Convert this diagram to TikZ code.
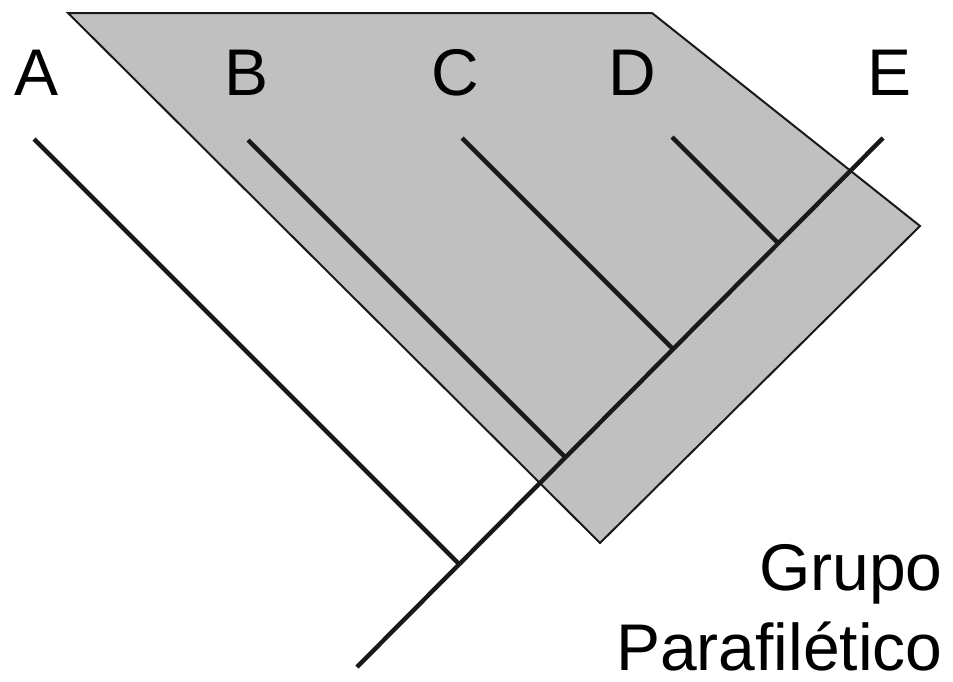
\documentclass[tikz,border=0pt]{standalone}
\usepackage{fontspec}
\setmainfont{Liberation Sans}
\usepackage{xcolor}
\usepackage{tikz}
\usetikzlibrary{positioning}

\definecolor{groupgray}{RGB}{192,192,192}

\begin{document}
\begin{tikzpicture}[
        x=0.5pt, y=-0.5pt,
        taxon/.style={font=\fontsize{33}{40}\selectfont, inner sep=0pt},
        caption/.style={font=\fontsize{33}{40}\selectfont, align=right, anchor=south east, inner sep=0pt},
        branch/.style={line width=2.2pt, draw=black!90},
        group/.style={fill=groupgray, draw=black!90, line width=1pt}
        ]
        \useasboundingbox (0,0) rectangle (953,681);

        % Paraphyletic group (shaded area)
        \coordinate (g1) at (68,13);
        \coordinate (g2) at (652,13);
        \coordinate (g3) at (920,226);
        \coordinate (g4) at (600,543);
        \draw [group] (g1) -- (g2) -- (g3) -- (g4) -- cycle;

        % Tips and junctions
        \coordinate (root) at (357,667);
        \coordinate (tipA) at (34,139);
        \coordinate (tipB) at (248,140);
        \coordinate (tipC) at (462,138);
        \coordinate (tipD) at (672,137);
        \coordinate (tipE) at (883,138);
        \coordinate (jA) at (459,564);
        \coordinate (jB) at (565,457);
        \coordinate (jC) at (673,349);
        \coordinate (jD) at (778,243);

        % Branches
        \draw [branch] (root) -- (tipE);
        \draw [branch] (tipA) -- (jA);
        \draw [branch] (tipB) -- (jB);
        \draw [branch] (tipC) -- (jC);
        \draw [branch] (tipD) -- (jD);

        % Taxon labels
        \node (A) [taxon] at (37,73) {A};
        \node (B) [taxon] at (247,73) {B};
        \node (C) [taxon] at (455,73) {C};
        \node (D) [taxon] at (632,73) {D};
        \node (E) [taxon] at (889,73) {E};

        \node (label) [caption] at (943,672) {Grupo\\Parafilético};

    \end{tikzpicture}
\end{document}
